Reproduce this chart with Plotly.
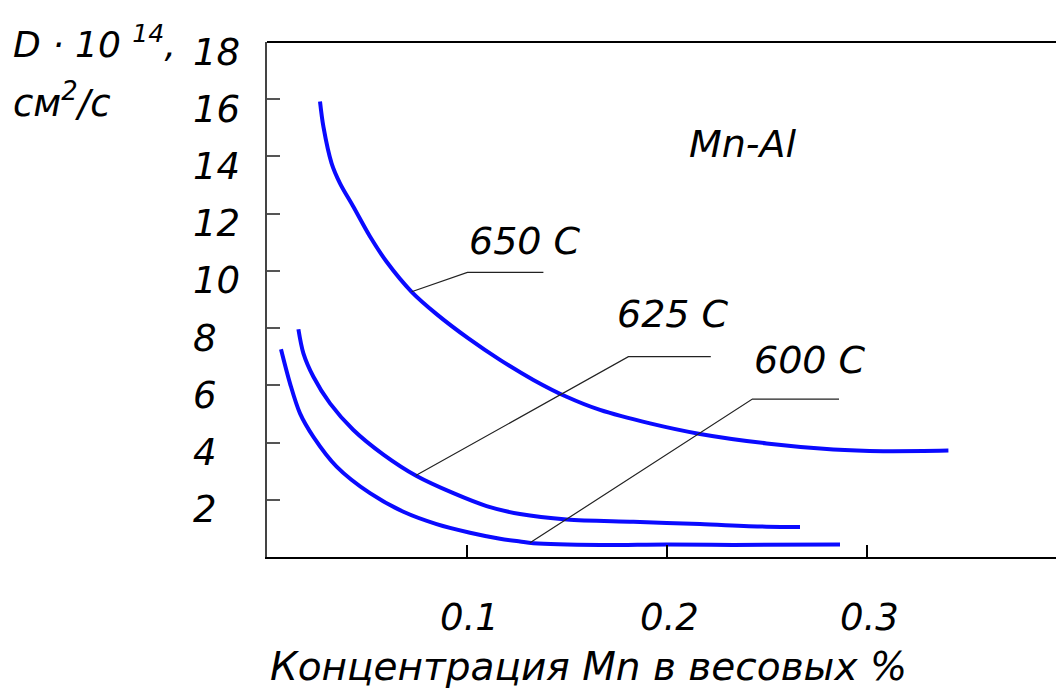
import numpy as np
import plotly.graph_objects as go

# ---- data ----
x650 = [0.0265, 0.0282, 0.0323, 0.0365, 0.0432, 0.0515, 0.0598, 0.0723, 0.0848, 0.1007,
        0.1165, 0.1332, 0.1498, 0.1665, 0.1915, 0.2165, 0.2498, 0.2832, 0.308, 0.3407]
d650 = [15.92, 15.04, 13.76, 13.06, 12.24, 11.2, 10.32, 9.27, 8.49, 7.64,
        6.89, 6.19, 5.60, 5.14, 4.67, 4.30, 3.97, 3.76, 3.70, 3.72]

x625 = [0.0157, 0.0182, 0.0232, 0.0315, 0.0432, 0.0582, 0.0748, 0.0932, 0.1098, 0.1265,
        0.1498, 0.1832, 0.2165, 0.2498, 0.2665]
d625 = [7.96, 7.12, 6.30, 5.37, 4.44, 3.58, 2.83, 2.23, 1.78, 1.50,
        1.31, 1.23, 1.15, 1.06, 1.05]

x600 = [0.007, 0.0115, 0.0165, 0.0232, 0.0348, 0.0515, 0.0682, 0.0848, 0.1015, 0.1165,
        0.1265, 0.1332, 0.1665, 0.1998, 0.2332, 0.2865]
d600 = [7.26, 6.07, 5.02, 4.20, 3.16, 2.23, 1.58, 1.15, 0.85, 0.64,
        0.54, 0.48, 0.42, 0.44, 0.42, 0.44]

series_names = ["650 C", "625 C", "600 C"]
y_ticks = [2, 4, 6, 8, 10, 12, 14, 16, 18]
y_tick_labels = ["2", "4", "6", "8", "10", "12", "14", "16", "18"]
x_ticks = [0.1, 0.2, 0.3]
x_tick_labels = ["0.1", "0.2", "0.3"]
x_title = "Концентрация Mn в весовых %"
system_label = "Mn-Al"

FONT = "DejaVu Sans"
BLUE = "#0a0aff"

FIG_W, FIG_H = 1056, 697
L, T, B_AX = 267, 42, 557   # plot-area edges in pixels
PLOT_W = FIG_W - L
PLOT_H = B_AX - T


def px_x(p):  # pixel -> paper x
    return (p - L) / PLOT_W


def px_y(p):  # pixel -> paper y
    return (B_AX - p) / PLOT_H


fig = go.Figure()
for xs, ds, nm in [(x650, d650, series_names[0]), (x625, d625, series_names[1]), (x600, d600, series_names[2])]:
    fig.add_trace(go.Scatter(x=xs, y=ds, mode="lines", name=nm,
                             line=dict(color=BLUE, width=4, shape="spline", smoothing=0.9),
                             showlegend=False, hoverinfo="skip"))

# leader lines (start on curve, elbow, end) and labels
leaders = [
    (x650, d650, 0.0723, (0.1002, 9.95), (0.1382, 9.95), (0.129, 11.04)),
    (x625, d625, 0.0744, (0.1807, 7.0), (0.2219, 7.0), (0.203, 8.49)),
    (x600, d600, 0.1315, (0.2427, 5.52), (0.286, 5.52), (0.2715, 6.89)),
]
annotations = []
for (xs, ds, xs0, elbow, end, lab), nm in zip(leaders, series_names):
    ys0 = float(np.interp(xs0, xs, ds))
    fig.add_trace(go.Scatter(x=[xs0, elbow[0], end[0]], y=[ys0, elbow[1], end[1]], mode="lines",
                             line=dict(color="#222222", width=1.2), showlegend=False, hoverinfo="skip"))
    annotations.append(dict(x=lab[0], y=lab[1], xref="x", yref="y", text="<i>%s</i>" % nm,
                            showarrow=False, font=dict(family=FONT, size=38, color="black"),
                            xanchor="center", yanchor="middle"))

annotations.append(dict(x=0.238, y=14.43, xref="x", yref="y", text="<i>%s</i>" % system_label,
                        showarrow=False, font=dict(family=FONT, size=38, color="black"),
                        xanchor="center", yanchor="middle"))

# y tick labels (left aligned, slightly below ticks as in the reference)
for v, t in zip(y_ticks, y_tick_labels):
    annotations.append(dict(x=px_x(191), y=v, xref="paper", yref="y", text="<i>%s</i>" % t,
                            showarrow=False, font=dict(family=FONT, size=37, color="black"),
                            xanchor="left", yanchor="middle", yshift=-10))
# x tick labels
for v, t in zip(x_ticks, x_tick_labels):
    annotations.append(dict(x=v, y=px_y(617), xref="x", yref="paper", text="<i>%s</i>" % t,
                            showarrow=False, font=dict(family=FONT, size=37, color="black"),
                            xanchor="center", yanchor="middle", xshift=2))
# x title
annotations.append(dict(x=px_x(588), y=px_y(666), xref="paper", yref="paper", text="<i>%s</i>" % x_title,
                        showarrow=False, font=dict(family=FONT, size=39, color="black"),
                        xanchor="center", yanchor="middle"))
# y title (two lines)
annotations.append(dict(x=px_x(11), y=px_y(42), xref="paper", yref="paper",
                        text="<i>D · 10 <sup>14</sup>,</i>",
                        showarrow=False, font=dict(family=FONT, size=36, color="black"),
                        xanchor="left", yanchor="middle"))
annotations.append(dict(x=px_x(11), y=px_y(100), xref="paper", yref="paper",
                        text="<i>см<sup>2</sup>/с</i>",
                        showarrow=False, font=dict(family=FONT, size=37, color="black"),
                        xanchor="left", yanchor="middle"))

fig.update_layout(
    width=FIG_W, height=FIG_H,
    margin=dict(l=L, r=0, t=T, b=FIG_H - B_AX, pad=0),
    paper_bgcolor="white", plot_bgcolor="white",
    font=dict(family=FONT, color="black"),
    annotations=annotations,
    shapes=[dict(type="line", xref="paper", yref="paper", x0=0, x1=1, y0=1, y1=1,
                 line=dict(color="black", width=2))],
    xaxis=dict(range=[0, PLOT_W / 2000], tickvals=x_ticks, showticklabels=False,
               ticks="inside", ticklen=12, tickwidth=1.5, tickcolor="black",
               showline=True, linecolor="black", linewidth=2, showgrid=False, zeroline=False,
               fixedrange=True),
    yaxis=dict(range=[0, 18], tickvals=y_ticks, showticklabels=False,
               ticks="inside", ticklen=13, tickwidth=2, tickcolor="#555555",
               showline=True, linecolor="#444444", linewidth=2, showgrid=False, zeroline=False,
               fixedrange=True),
)

fig.write_html(
    "out.html",
    config={"displayModeBar": False},
    post_script="document.body.style.margin='0';document.body.style.overflow='hidden';",
)
